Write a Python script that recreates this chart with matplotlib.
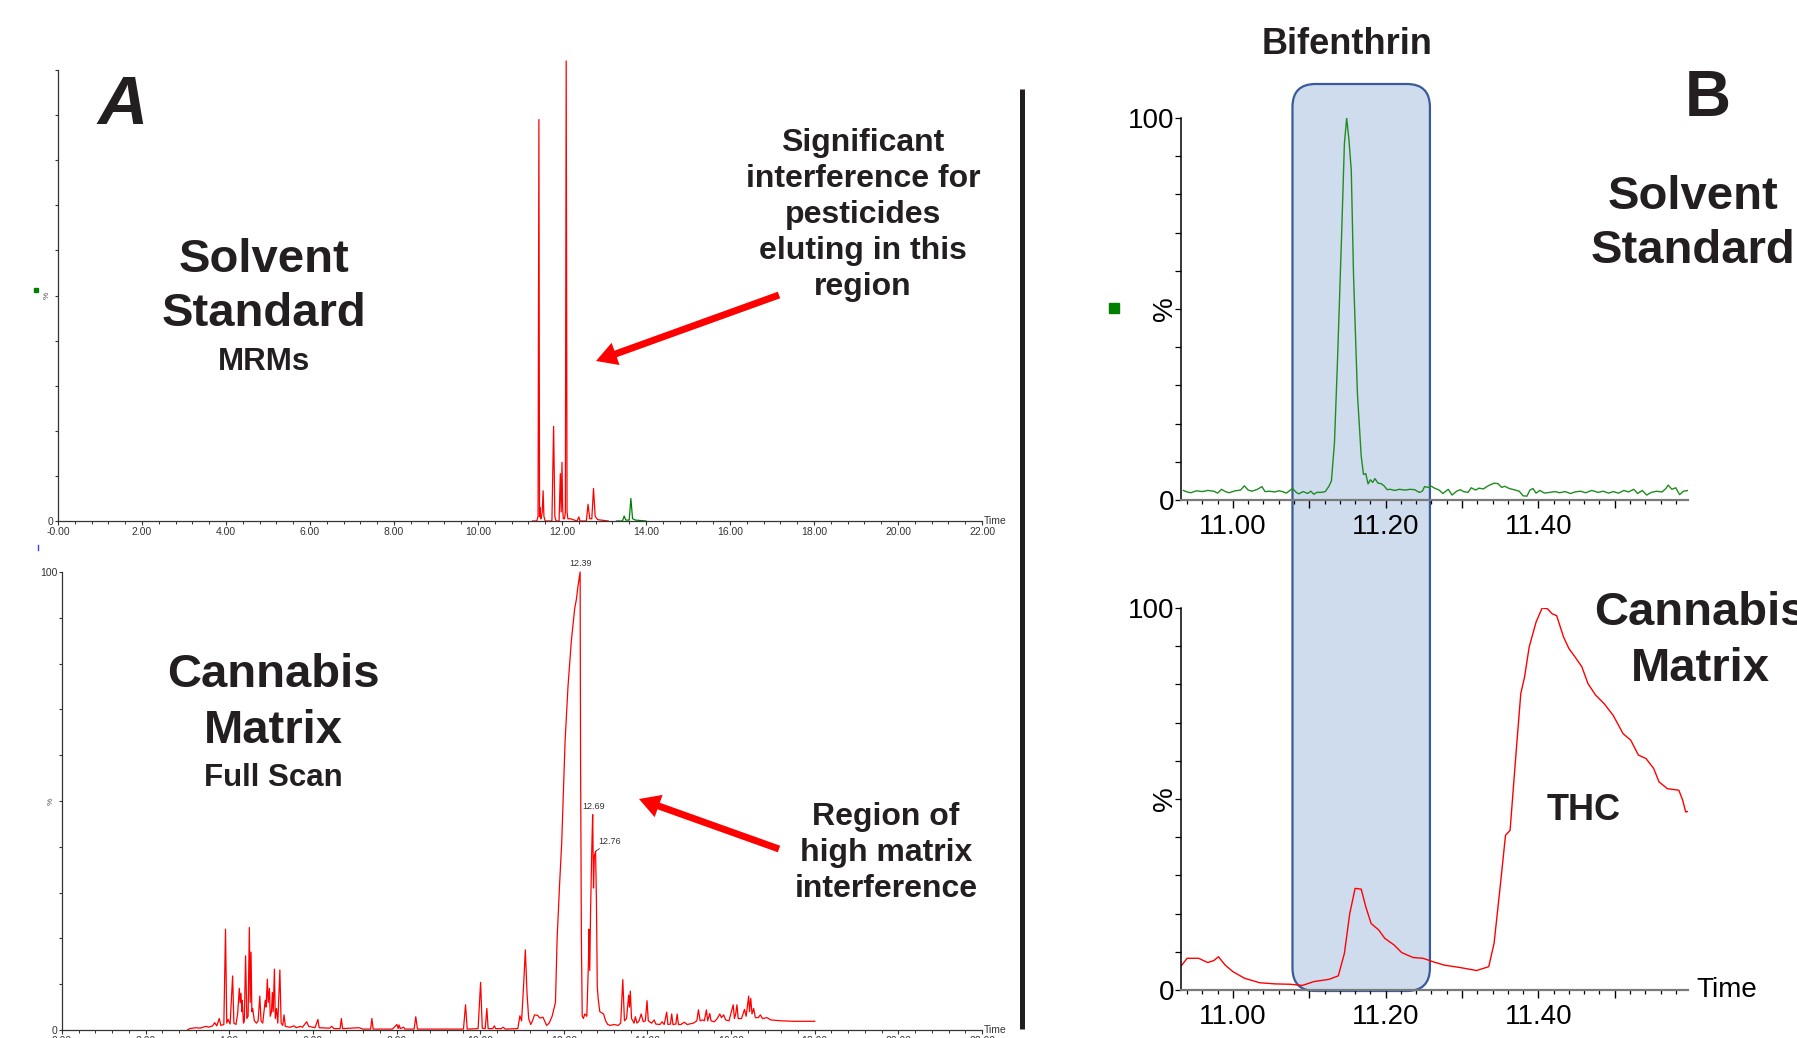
import matplotlib
matplotlib.use("Agg")
import matplotlib.pyplot as plt
from matplotlib.patches import FancyBboxPatch, FancyArrowPatch
from matplotlib.ticker import MultipleLocator, FuncFormatter
from matplotlib.transforms import blended_transform_factory

plt.rcParams['font.family'] = ['Liberation Sans', 'DejaVu Sans']

W, H = 1797, 1038
INK = '#231f20'

# panel A top: solvent standard, MRM traces (time in min, intensity in %)
mrm_red_t = [11.30, 11.40, 11.43, 11.45, 11.465, 11.475, 11.49, 11.50, 11.53, 11.55, 11.57, 11.60,
             11.76, 11.80, 11.83, 11.86, 11.93, 11.96, 11.98, 12.00, 12.015, 12.03, 12.06, 12.08,
             12.10, 12.12, 12.14, 12.20, 12.36, 12.40, 12.43, 12.58, 12.62, 12.66, 12.71, 12.75,
             12.79, 12.85, 13.10]
mrm_red_v = [0, 0, 1, 89, 1, 3, 0.5, 0.5, 2, 6.7, 1, 0,
             0, 21, 1, 0, 0, 10.5, 2, 13, 3, 0.5, 0.5, 2,
             102, 2, 0.5, 0.5, 0, 0.9, 0, 0, 3.7, 0.5, 0.5, 7.2,
             1, 0.3, 0]
mrm_green_t = [13.30, 13.44, 13.48, 13.52, 13.60, 13.64, 13.68, 13.75, 14.00]
mrm_green_v = [0, 0, 1.1, 0.2, 0.2, 5.0, 0.5, 0.2, 0]

# panel A bottom: cannabis matrix, full scan TIC
scan_t = [3.00, 3.05, 3.20, 3.30, 3.45, 3.50, 3.60, 3.65, 3.70, 3.76, 3.80, 3.87, 3.91, 3.94, 3.97,
          4.02, 4.08, 4.11, 4.16, 4.20, 4.24, 4.26, 4.28, 4.30, 4.31, 4.34, 4.36, 4.39, 4.42, 4.45,
          4.48, 4.50, 4.52, 4.54, 4.56, 4.60, 4.65, 4.69, 4.73, 4.76, 4.80, 4.83, 4.86, 4.88, 4.91,
          4.93, 4.96, 4.98, 5.01, 5.03, 5.05, 5.08, 5.10, 5.13, 5.16, 5.21, 5.24, 5.28, 5.31, 5.34,
          5.45, 5.55, 5.60, 5.70, 5.75, 5.85, 5.90, 6.00, 6.05, 6.12, 6.15, 6.40, 6.45, 6.50, 6.65,
          6.68, 6.71, 6.90, 7.10, 7.20, 7.38, 7.41, 7.44, 7.90, 8.01, 8.04, 8.06, 8.09, 8.17, 8.20,
          8.42, 8.46, 8.50, 9.60, 9.65, 9.69, 9.95, 10.01, 10.05, 10.12, 10.16, 10.19, 10.30, 10.34,
          10.37, 10.50, 10.55, 10.60, 10.90, 10.95, 10.99, 11.04, 11.08, 11.12, 11.16, 11.21, 11.25,
          11.30, 11.37, 11.43, 11.50, 11.54, 11.59, 11.65, 11.72, 11.80, 11.84, 11.90, 11.95, 12.03,
          12.10, 12.18, 12.26, 12.30, 12.34, 12.39, 12.40, 12.41, 12.42, 12.44, 12.47, 12.50, 12.55,
          12.59, 12.60, 12.62, 12.64, 12.67, 12.69, 12.71, 12.73, 12.76, 12.78, 12.80, 12.82, 12.86,
          12.95, 13.00, 13.05, 13.11, 13.20, 13.30, 13.36, 13.41, 13.45, 13.50, 13.55, 13.57, 13.59,
          13.62, 13.68, 13.71, 13.75, 13.80, 13.85, 13.90, 13.95, 13.99, 14.02, 14.10, 14.16, 14.20,
          14.30, 14.35, 14.40, 14.46, 14.49, 14.55, 14.58, 14.61, 14.68, 14.71, 14.74, 14.80, 14.88,
          14.95, 15.10, 15.18, 15.22, 15.26, 15.32, 15.36, 15.41, 15.44, 15.49, 15.52, 15.60, 15.67,
          15.73, 15.77, 15.82, 15.87, 15.95, 16.05, 16.08, 16.11, 16.14, 16.17, 16.25, 16.32, 16.36,
          16.42, 16.44, 16.47, 16.50, 16.54, 16.58, 16.65, 16.70, 16.75, 16.86, 16.95, 17.20, 17.50,
          17.80, 18.00]
scan_v = [0, 0.3, 0.5, 0.4, 0.8, 0.6, 0.9, 1.6, 0.9, 2.5, 1.0, 1.2, 22, 1.5, 2.3,
          1.3, 11.8, 1.5, 1.2, 3.5, 9.1, 6, 8, 4, 6.5, 1.5, 2, 16.2, 2.5, 3,
          22.4, 6, 17, 4, 4.7, 2.0, 1.5, 2.0, 7.4, 2, 1.5, 4, 6.5, 5, 11.1,
          6, 9.1, 3, 4, 8.2, 4, 13.3, 2.5, 4.7, 1.5, 13.1, 1.5, 1.0, 3.3, 0.8,
          0.6, 0.9, 0.5, 0.8, 0.6, 1.8, 0.8, 0.6, 0.5, 2.3, 0.5, 0.4, 0.8, 0.3, 0.3,
          2.5, 0.3, 0.4, 0.5, 0.2, 0.2, 2.5, 0.2, 0.2, 1.2, 0.3, 1.1, 0.3, 0.6, 0.2,
          0.2, 2.9, 0.2, 0.2, 5.5, 0.2, 0.3, 10.4, 0.4, 0.3, 4.7, 0.3, 0.3, 0.9,
          0.3, 0.3, 0.6, 0.2, 0.3, 3.1, 2.0, 10, 17.5, 8, 2.5, 1.2, 2,
          3.3, 3.2, 2.6, 2.8, 2.0, 1.0, 1.5, 3, 6, 20, 32, 41, 63,
          75, 85, 92, 94, 97, 100, 60, 41, 20, 3, 2.5, 3.5, 3,
          15, 22, 13, 26, 40, 47, 31, 38, 39, 28, 9.5, 7, 4,
          3.5, 2.0, 1.2, 1.0, 1.2, 1.0, 1.5, 11, 2, 2.5, 7.6, 5, 8.5,
          2.5, 1.5, 2.9, 1.5, 2, 3.5, 1.8, 2, 6.4, 2, 1.5, 2.2, 1.3,
          1.2, 1.8, 1.2, 3.9, 1.2, 1.3, 3.5, 1.2, 1.3, 3.5, 1.2, 1.2, 1.7,
          1.2, 1.5, 2, 4.4, 2, 2.2, 2, 4.4, 2, 3.6, 2, 1.8, 2.5,
          3.5, 2.7, 3.3, 2.2, 2.0, 5.5, 2.5, 3.5, 5.5, 2.5, 2.5, 4.5, 3,
          7.4, 4, 6.9, 3.5, 4.7, 2.7, 2.7, 3.3, 2.5, 2.7, 2.2, 2.0, 1.9,
          1.9, 1.9]
scan_peak_t = [12.39, 12.69, 12.76]
scan_peak_v = [100, 47, 39]

# panel B top: bifenthrin MRM in solvent standard
std_t = [10.935, 10.940, 10.945, 10.952, 10.960, 10.967, 10.975, 10.980, 10.985, 10.990, 10.995,
         11.003, 11.010, 11.015, 11.020, 11.025, 11.032, 11.038, 11.042, 11.048, 11.055, 11.060,
         11.065, 11.070, 11.078, 11.083, 11.086, 11.092, 11.098, 11.102, 11.106, 11.110, 11.116,
         11.121, 11.126, 11.129, 11.133, 11.137, 11.142, 11.146, 11.149, 11.152, 11.155, 11.158,
         11.163, 11.168, 11.171, 11.174, 11.177, 11.180, 11.183, 11.186, 11.190, 11.194, 11.198,
         11.202, 11.206, 11.212, 11.218, 11.226, 11.232, 11.238, 11.244, 11.248, 11.251, 11.256,
         11.260, 11.264, 11.270, 11.275, 11.282, 11.287, 11.293, 11.298, 11.302, 11.308, 11.312,
         11.318, 11.322, 11.328, 11.335, 11.342, 11.347, 11.352, 11.356, 11.362, 11.368, 11.375,
         11.380, 11.385, 11.389, 11.393, 11.397, 11.402, 11.408, 11.415, 11.422, 11.428, 11.435,
         11.442, 11.448, 11.455, 11.462, 11.470, 11.478, 11.485, 11.492, 11.498, 11.505, 11.512,
         11.518, 11.525, 11.530, 11.536, 11.542, 11.548, 11.555, 11.562, 11.567, 11.570, 11.575,
         11.580, 11.585, 11.590, 11.596]
std_v = [2.5, 2.1, 1.9, 2.4, 2.2, 2.5, 2.3, 1.8, 2.8, 2.2, 1.9,
         2.4, 2.6, 3.7, 2.6, 2.3, 2.8, 3.5, 2.2, 2.3, 2.1, 2.4,
         2.2, 1.8, 3.0, 2.0, 1.6, 2.2, 1.7, 2.3, 1.5, 2.0, 2.0,
         2.2, 3.7, 5.0, 15.0, 36.7, 67.2, 93.3, 100, 94.2, 86.3, 58.5,
         28.0, 11.5, 6.7, 6.9, 4.2, 5.3, 4.6, 5.6, 4.4, 4.3, 3.7,
         2.7, 2.8, 2.5, 2.8, 2.6, 2.8, 2.7, 2.0, 2.3, 3.5, 3.3,
         3.6, 3.1, 2.6, 1.7, 2.8, 1.3, 2.3, 2.7, 2.2, 2.0, 3.2,
         2.6, 3.1, 2.9, 3.8, 4.4, 4.3, 3.3, 3.6, 3.0, 2.7, 2.3,
         1.1, 1.0, 2.6, 3.0, 1.8, 2.5, 1.8, 2.0, 2.2, 1.9, 2.2,
         1.7, 2.1, 2.3, 1.9, 2.5, 2.0, 2.3, 1.8, 2.2, 1.8, 2.5,
         2.1, 2.8, 1.7, 2.5, 1.3, 2.0, 2.3, 2.1, 3.0, 3.9, 2.8,
         3.2, 1.4, 2.3, 2.5]

# panel B bottom: same transition in cannabis matrix
mat_t = [10.933, 10.940, 10.955, 10.967, 10.975, 10.981, 10.990, 11.000, 11.015, 11.035, 11.055,
         11.075, 11.091, 11.106, 11.126, 11.138, 11.146, 11.153, 11.160, 11.168, 11.174, 11.181,
         11.191, 11.199, 11.211, 11.221, 11.236, 11.249, 11.262, 11.277, 11.297, 11.319, 11.335,
         11.342, 11.350, 11.357, 11.363, 11.370, 11.377, 11.382, 11.388, 11.397, 11.405, 11.412,
         11.418, 11.424, 11.433, 11.440, 11.448, 11.457, 11.465, 11.475, 11.486, 11.498, 11.511,
         11.521, 11.531, 11.541, 11.551, 11.558, 11.569, 11.584, 11.589, 11.593, 11.597]
mat_v = [6.5, 8.3, 8.3, 7.2, 7.7, 8.7, 6.5, 4.8, 3.1, 1.9, 1.6,
         1.5, 1.2, 2.2, 2.8, 3.7, 9.6, 20.0, 26.6, 26.4, 21.8, 17.4,
         15.7, 13.5, 11.8, 9.8, 8.5, 8.3, 7.4, 6.5, 5.9, 5.1, 6.1,
         12.2, 27.0, 40.5, 41.8, 60.0, 77.6, 82.0, 89.8, 96.3, 100, 99.8,
         98.5, 98.0, 92.4, 89.4, 87.2, 84.6, 80.2, 77.2, 75.0, 71.9, 67.1,
         65.4, 61.5, 60.6, 58.0, 54.5, 52.7, 52.3, 49.7, 46.6, 46.8]
window_t = [11.078, 11.258]

fig = plt.figure(figsize=(W / 100, H / 100), dpi=100)


def px_axes(x0, x1, ytop, ybot):
    return fig.add_axes([x0 / W, 1 - ybot / H, (x1 - x0) / W, (ybot - ytop) / H], zorder=1)


over = fig.add_axes([0, 0, 1, 1], zorder=0)
over.set_xlim(0, W)
over.set_ylim(H, 0)
over.axis('off')


def style_small(ax, first_label, show100):
    ax.set_xlim(0, 22)
    ax.set_ylim(0, 100)
    ax.patch.set_alpha(0)
    for s in ['top', 'right']:
        ax.spines[s].set_visible(False)
    for s in ['left', 'bottom']:
        ax.spines[s].set_linewidth(0.9)
        ax.spines[s].set_color('#333333')
    ax.xaxis.set_major_locator(MultipleLocator(2))
    ax.xaxis.set_minor_locator(MultipleLocator(0.4))
    ax.yaxis.set_major_locator(MultipleLocator(10))
    ax.xaxis.set_major_formatter(FuncFormatter(
        lambda v, p: first_label if abs(v) < 1e-6 else '%.2f' % v))
    ax.yaxis.set_major_formatter(FuncFormatter(
        lambda v, p: '0' if abs(v) < 1e-6 else ('100' if show100 and abs(v - 100) < 1e-6 else '')))
    ax.tick_params(direction='out', length=3, width=0.8, labelsize=7.5, pad=1, colors='#333333')
    ax.tick_params(axis='y', length=2.5)
    ax.tick_params(which='minor', length=2, width=0.7, color='#333333')
    tr = blended_transform_factory(ax.transAxes, ax.transData)
    ax.text(-0.008, 50, '%', transform=tr, rotation=90, fontsize=6, ha='right', va='center', color='#555555')
    ax.text(1.002, 0, 'Time', transform=tr, fontsize=7.5, ha='left', va='center', color='#333333')


axA1 = px_axes(58, 982, 70, 521)
axA1.plot(mrm_red_t, mrm_red_v, color='red', lw=0.9, clip_on=False)
axA1.plot(mrm_green_t, mrm_green_v, color='#008000', lw=0.9)
style_small(axA1, '-0.00', False)

axA2 = px_axes(62, 982, 572, 1030)
axA2.plot(scan_t, scan_v, color='red', lw=0.9, clip_on=False)
style_small(axA2, '0.00', True)
axA2.annotate('12.39', (scan_peak_t[0], scan_peak_v[0]), xytext=(0, 3), textcoords='offset points',
              ha='center', va='bottom', fontsize=6.5, color='#333333')
axA2.annotate('12.69', (scan_peak_t[1], scan_peak_v[1]), xytext=(1, 3), textcoords='offset points',
              ha='center', va='bottom', fontsize=6.5, color='#333333')
axA2.annotate('12.76', (scan_peak_t[2], scan_peak_v[2]), xytext=(2, 4), textcoords='offset points',
              ha='left', va='bottom', fontsize=6.5, color='#333333',
              arrowprops=dict(arrowstyle='-', lw=0.6, color='#333333', shrinkA=0, shrinkB=0))


def style_big(ax):
    ax.set_xlim(10.932, 11.596)
    ax.set_ylim(0, 100)
    ax.patch.set_alpha(0)
    for s in ['top', 'right']:
        ax.spines[s].set_visible(False)
    ax.spines['left'].set_linewidth(1.1)
    ax.spines['left'].set_color('black')
    ax.spines['bottom'].set_linewidth(1.6)
    ax.spines['bottom'].set_color('#7a7a7a')
    ax.xaxis.set_major_locator(MultipleLocator(0.1))
    ax.xaxis.set_minor_locator(MultipleLocator(0.02))
    ax.yaxis.set_major_locator(MultipleLocator(10))
    ax.xaxis.set_major_formatter(FuncFormatter(
        lambda v, p: '%.2f' % v if round(v * 10) % 2 == 0 else ''))
    ax.yaxis.set_major_formatter(FuncFormatter(
        lambda v, p: '0' if abs(v) < 1e-6 else ('100' if abs(v - 100) < 1e-6 else '')))
    ax.tick_params(axis='x', which='major', direction='out', length=5.8, width=1.0,
                   labelsize=20, pad=4.3, colors='black')
    ax.tick_params(axis='x', which='minor', direction='out', length=3.2, width=0.9, color='black')
    ax.tick_params(axis='y', direction='out', length=4.3, width=0.9, labelsize=20, pad=0.5)
    tr = blended_transform_factory(ax.transAxes, ax.transData)
    ax.text(-16 / 507, 50, '%', transform=tr, rotation=90, fontsize=20, ha='center', va='center')


axB1 = px_axes(1181, 1688, 118, 500)
axB1.plot(std_t, std_v, color='#1f8c1f', lw=1.0)
style_big(axB1)

axB2 = px_axes(1181, 1688, 608, 990)
axB2.plot(mat_t, mat_v, color='red', lw=1.0)
style_big(axB2)

# highlighted retention window
x0 = over.transData.inverted().transform(axB1.transData.transform((window_t[0], 0)))[0]
x1 = over.transData.inverted().transform(axB1.transData.transform((window_t[1], 0)))[0]
over.add_patch(FancyBboxPatch((x0, 84), x1 - x0, 907, boxstyle='round,pad=0,rounding_size=23',
                              facecolor='#cfdcee', edgecolor='#3a5a9b', lw=1.6))

# divider
over.plot([1022, 1022], [89, 1029], color=INK, lw=3.6, solid_capstyle='butt')

# labels
bold = dict(color=INK, fontweight='bold', ha='center', va='center')
over.text(123, 106, 'A', fontsize=50, style='italic', **bold)
over.text(1708, 99, 'B', fontsize=46, **bold)
over.text(264, 287, 'Solvent\nStandard', fontsize=34, linespacing=1.3, **bold)
over.text(264, 362, 'MRMs', fontsize=22.5, **bold)
over.text(273, 703, 'Cannabis\nMatrix', fontsize=34, linespacing=1.33, **bold)
over.text(273, 778, 'Full Scan', fontsize=22.5, **bold)
over.text(863, 215, 'Significant\ninterference for\npesticides\neluting in this\nregion',
          fontsize=23, linespacing=1.27, **bold)
over.text(886, 853, 'Region of\nhigh matrix\ninterference', fontsize=23, linespacing=1.27, **bold)
over.text(1347, 45, 'Bifenthrin', fontsize=26, **bold)
over.text(1693, 224, 'Solvent\nStandard', fontsize=34, linespacing=1.3, **bold)
over.text(1700, 641, 'Cannabis\nMatrix', fontsize=34, linespacing=1.33, **bold)
over.text(1584, 810, 'THC', fontsize=26, **bold)
over.text(1696, 990, 'Time', fontsize=20, color='black', ha='left', va='center')

# markers beside the % axes
over.plot([1114], [308], marker='s', ms=6.5, color='#008000', ls='none')
over.plot([36], [290], marker='s', ms=2.8, color='#008000', ls='none')
over.plot([38, 38], [545, 550], color='#3344ee', lw=1)

for tail, head in [((779, 295), (596, 361)), ((779, 849), (639, 799))]:
    over.add_patch(FancyArrowPatch(tail, head, arrowstyle='simple,head_length=15,head_width=17,tail_width=5',
                                   mutation_scale=1, color='red', lw=0, shrinkA=0, shrinkB=0))

fig.savefig('out.png', dpi=100)
